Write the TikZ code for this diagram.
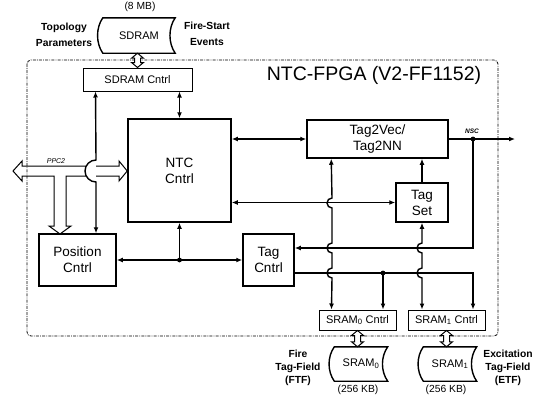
\documentclass[tikz,border=0pt]{standalone}
\usepackage{fontspec}
\setmainfont{Liberation Sans}
\usetikzlibrary{arrows.meta,calc}

% hollow two-way bus arrow between two points on one vertical
\newcommand{\busarrow}[2]{%
  \draw[bus] (#1) -- ($(#1)+(6,5)$) -- ($(#1)+(3,5)$) -- ($(#2)+(3,-5)$) -- ($(#2)+(6,-5)$) -- (#2)
    -- ($(#2)+(-6,-5)$) -- ($(#2)+(-3,-5)$) -- ($(#1)+(-3,5)$) -- ($(#1)+(-6,5)$) -- cycle;}

\begin{document}
\begin{tikzpicture}[x=1pt,y=-1pt,>={Latex[length=6pt,width=5pt]},
  blk/.style={draw,line width=1.5pt,inner sep=0pt,align=center,font=\fontsize{13.5}{16}\selectfont},
  ctl/.style={draw,line width=1pt,inner sep=0pt,font=\fontsize{11}{13}\selectfont},
  store/.style={inner sep=0pt,font=\fontsize{11}{13}\selectfont},
  lbl/.style={align=center,font=\bfseries\fontsize{10.3}{13}\selectfont},
  sizelbl/.style={font=\fontsize{10.3}{12}\selectfont},
  wire/.style={line width=1.4pt},
  bus/.style={line width=1pt,fill=white}]
        \useasboundingbox (0,0) rectangle (544,394);
        % FPGA border
        \draw[dash pattern=on 3pt off 1.2pt on 0.8pt off 1.2pt,line width=0.8pt,rounded corners=4pt] (27,60) rectangle (498,336);
        \node[font=\fontsize{19.5}{22}\selectfont] (fpga) at (374,75) {NTC-FPGA (V2-FF1152)};
        % memories
        \node[store,minimum width=72pt,minimum height=35pt] (sdram) at (139,35.5) {SDRAM};
        \node[store,minimum width=53pt,minimum height=34pt] (sram0) at (361,364) {SRAM\textsubscript{0}};
        \node[store,minimum width=53pt,minimum height=34pt] (sram1) at (450,364) {SRAM\textsubscript{1}};
        \foreach \s in {sdram,sram0,sram1}
          \draw[line width=1.4pt] (\s.north west) -- (\s.north east)
            .. controls ($(\s.north east)+(-7,10)$) and ($(\s.south east)+(-7,-10)$) .. (\s.south east)
            -- (\s.south west)
            .. controls ($(\s.south west)+(-7,-10)$) and ($(\s.north west)+(-7,10)$) .. (\s.north west) -- cycle;
        \node[sizelbl] (sdsize) at (140,7) {(8 MB)};
        \node[sizelbl] (s0size) at (358,390) {(256 KB)};
        \node[sizelbl] (s1size) at (446,390) {(256 KB)};
        \node[lbl,font=\bfseries\fontsize{10.3}{16}\selectfont] (topo) at (64,35) {Topology\\Parameters};
        \node[lbl,font=\bfseries\fontsize{10.3}{16}\selectfont] (fire) at (207,34) {Fire-Start\\Events};
        \node[lbl] (ftf) at (298,368) {Fire\\Tag-Field\\(FTF)};
        \node[lbl] (etf) at (508,368) {Excitation\\Tag-Field\\(ETF)};
        % blocks
        \node[ctl,minimum width=109pt,minimum height=23pt] (sdramc) at (137.5,79.5) {SDRAM Cntrl};
        \node[blk,minimum width=103pt,minimum height=103pt] (ntc) at (179.5,170.5) {NTC\\Cntrl};
        \node[blk,minimum width=141pt,minimum height=38pt] (t2v) at (377.5,139) {Tag2Vec/\\Tag2NN};
        \node[blk,minimum width=52pt,minimum height=39pt] (tagset) at (422,202.5) {Tag\\Set};
        \node[blk,minimum width=77pt,minimum height=52pt] (pos) at (77.5,260) {Position\\Cntrl};
        \node[blk,minimum width=51pt,minimum height=52pt] (tagc) at (268.5,260) {Tag\\Cntrl};
        \node[ctl,minimum width=77pt,minimum height=20pt] (sram0c) at (357.5,320) {SRAM\textsubscript{0} Cntrl};
        \node[ctl,minimum width=77pt,minimum height=20pt] (sram1c) at (446.5,320) {SRAM\textsubscript{1} Cntrl};
        % bus arrows to the memories
        \coordinate (b0) at (sdramc.north |- sdram.south);
        \coordinate (b1) at (sram0c.south |- sram0.north);
        \coordinate (b2) at (sram1c.south |- sram1.north);
        \busarrow{b0}{sdramc.north}
        \busarrow{sram0c.south}{b1}
        \busarrow{sram1c.south}{b2}
        % PPC2 bus
        \coordinate (ppc) at (13,171);
        \draw[line width=1pt] (86.2,166) -- (22,166) -- (22,161) -- (ppc) -- (22,181) -- (22,176) -- (54,176)
          -- (54,226) -- (49,226) -- (60,234) -- (71,226) -- (66,226) -- (66,176) -- (86.2,176);
        \draw[line width=1pt] (96,166) -- (119,166) -- (119,161) -- (ntc.west |- ppc) -- (119,181) -- (119,176) -- (96,176);
        \node[font=\itshape\fontsize{7}{8}\selectfont] (ppclbl) at (56,161) {PPC2};
        % connectors
        \coordinate (nsc) at (473,139);
        \coordinate (out) at (515,139);
        \coordinate (fb) at (473,248);
        \coordinate (tc) at (473,273);
        \coordinate (tcdot) at (383,273);
        \coordinate (pdot) at (ntc.south |- pos.east);
        \draw[wire,<->] ($(sdramc.south west)+(13,0)$) -- (96,160) arc[start angle=270,end angle=90,radius=11] -- (pos.north -| 96,0);
        \draw[wire,<->] (sdramc.south -| ntc.north) -- (ntc.north);
        \draw[wire,<->] (ntc.east |- t2v.west) -- (t2v.west);
        \draw[wire,<->] (ntc.east |- tagset.west) -- (tagset.west);
        \draw[wire,->] (tagset.north) -- (tagset.north |- t2v.south);
        \draw[wire,->] (t2v.east) -- (out);
        \node[font=\bfseries\itshape\fontsize{6.5}{7}\selectfont] (nsclbl) at (472,131) {NSC};
        \draw[wire,->] (nsc) -- (fb) -- (fb -| tagc.east);
        \draw[wire,->] (tc -| tagc.east) -- (tc) -- (tc |- sram1c.north);
        \draw[wire,->] (tcdot) -- (tcdot |- sram0c.north);
        \draw[wire,<->] (pos.east) -- (tagc.west);
        \draw[wire,->] (pdot) -- (ntc.south);
        \draw[wire,<->] ($(sram0c.north west)+(13,0)$) -- (332,278) arc[start angle=90,end angle=270,radius=5]
          -- (332,253) arc[start angle=90,end angle=270,radius=5]
          -- (332,208) arc[start angle=90,end angle=270,radius=5] -- ($(t2v.south west)+(25,0)$);
        \draw[wire,<->] (sram1c.north -| tagset.south) -- (422,278) arc[start angle=90,end angle=270,radius=5]
          -- (422,253) arc[start angle=90,end angle=270,radius=5] -- (tagset.south);
        \foreach \d in {nsc,tcdot,pdot} \fill (\d) circle[radius=2.4];
\end{tikzpicture}
\end{document}
